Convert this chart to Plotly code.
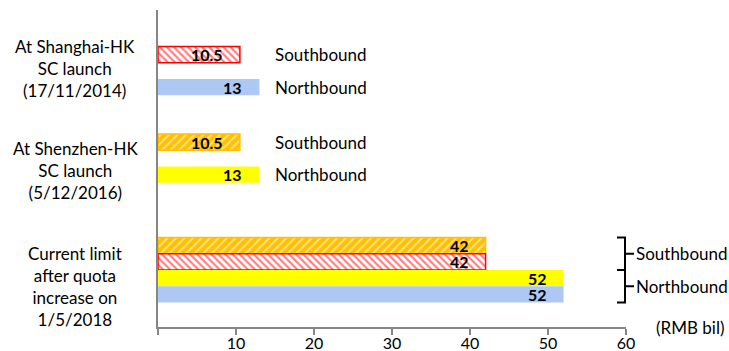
import plotly.graph_objects as go

# ---------------- data ----------------
categories = [
    "At Shanghai-HK<br>SC launch<br>(17/11/2014)",
    "At Shenzhen-HK<br>SC launch<br>(5/12/2016)",
    "Current limit<br>after quota<br>increase on<br>1/5/2018",
]
south_szhk = [None, 10.5, 42]   # orange hatched
south_shhk = [10.5, None, 42]   # red hatched
north_szhk = [None, 13, 52]     # yellow
north_shhk = [13, None, 52]     # light blue
x_ticks = [0, 10, 20, 30, 40, 50, 60]
x_ticktext = ["", "10", "20", "30", "40", "50", "60"]
unit_label = "(RMB bil)"

# ---------------- styling ----------------
FONT = "Lato"
W, H = 729, 351
ML, MR, MT, MB = 158, 103, 10, 24
BARGAP = 0.372
YR = [2.55, -0.51]  # reversed category axis
slot_w = (1 - BARGAP) / 4

series = [
    dict(name="Southbound (SZ-HK)", vals=south_szhk, dirn="Southbound",
         marker=dict(color="#FFC000", line=dict(color="#FFC000", width=1.5),
                     pattern=dict(shape="/", bgcolor="#FFC000", fgcolor="white",
                                  size=6, solidity=0.35, fillmode="overlay"))),
    dict(name="Southbound (SH-HK)", vals=south_shhk, dirn="Southbound",
         marker=dict(color="white", line=dict(color="#FF0000", width=1.5),
                     pattern=dict(shape="\\", bgcolor="white", fgcolor="#FF0000",
                                  size=5, solidity=0.45, fillmode="overlay"))),
    dict(name="Northbound (SZ-HK)", vals=north_szhk, dirn="Northbound",
         marker=dict(color="#FFFF00", line=dict(width=0))),
    dict(name="Northbound (SH-HK)", vals=north_shhk, dirn="Northbound",
         marker=dict(color="#ADC8F2", line=dict(width=0))),
]

fig = go.Figure()
for s in series:
    fig.add_trace(go.Bar(
        y=categories, x=s["vals"], orientation="h", name=s["name"],
        marker=s["marker"], showlegend=False, hoverinfo="x+name",
    ))

annotations = []
shapes = []

def paper_y(v):
    return (YR[0] - v) / (YR[0] - YR[1])

def paper_x_px(px):
    return (px - ML) / (W - ML - MR)

# value labels + side labels
for i, s in enumerate(series):
    other = [t for k, t in enumerate(series) if t["dirn"] == s["dirn"] and k != i][0]
    for j, v in enumerate(s["vals"]):
        if v is None:
            continue
        yc = j + (i - 1.5) * slot_w
        annotations.append(dict(
            x=v, y=yc, xref="x", yref="y", text="<b>%s</b>" % (("%g" % v)),
            showarrow=False, xanchor="right", yanchor="middle", xshift=-15,
            font=dict(family=FONT, size=16, color="black"),
        ))
        if other["vals"][j] is None:
            annotations.append(dict(
                x=paper_x_px(273), y=yc, xref="paper", yref="y", text=s["dirn"],
                showarrow=False, xanchor="left", yanchor="middle",
                font=dict(family=FONT, size=17, color="black"),
            ))

# bracket group labels for the last category
jl = len(categories) - 1
for k, dirn in enumerate(["Southbound", "Northbound"]):
    top = jl + (2 * k - 2) * slot_w
    bot = jl + (2 * k) * slot_w
    mid = (top + bot) / 2
    x0, x1, x2 = paper_x_px(617), paper_x_px(625), paper_x_px(634)
    yt, yb, ym = paper_y(top), paper_y(bot), paper_y(mid)
    shapes.append(dict(
        type="path", xref="paper", yref="paper",
        path=f"M {x0},{yt} L {x1},{yt} L {x1},{yb} L {x0},{yb} M {x1},{ym} L {x2},{ym}",
        line=dict(color="black", width=2),
    ))
    annotations.append(dict(
        x=x2, y=ym, xref="paper", yref="paper", text=dirn, showarrow=False,
        xanchor="left", yanchor="middle", font=dict(family=FONT, size=17, color="black"),
    ))

# category labels (centered multi-line)
cat_shift = [-6, -4, -16]
for j, c in enumerate(categories):
    annotations.append(dict(
        x=paper_x_px(75), y=j, xref="paper", yref="y", text=c, showarrow=False,
        xanchor="center", yanchor="middle", align="center", yshift=cat_shift[j],
        font=dict(family=FONT, size=17, color="black"),
    ))

# unit label
annotations.append(dict(
    x=paper_x_px(654), y=0, xref="paper", yref="paper", text=unit_label,
    showarrow=False, xanchor="left", yanchor="middle",
    font=dict(family=FONT, size=17, color="black"),
))

fig.update_layout(
    width=W, height=H,
    margin=dict(l=ML, r=MR, t=MT, b=MB, autoexpand=False),
    barmode="group", bargap=BARGAP, bargroupgap=0,
    plot_bgcolor="white", paper_bgcolor="white",
    annotations=annotations, shapes=shapes,
    xaxis=dict(range=[0, 60], tickvals=x_ticks, ticktext=x_ticktext,
               showgrid=False, zeroline=False, showline=True, automargin=False,
               linecolor="#868686", linewidth=1.5, ticks="outside",
               ticklen=6, tickcolor="#868686", tickwidth=1.5,
               ticklabelstandoff=-5,
               tickfont=dict(family=FONT, size=16, color="black")),
    yaxis=dict(type="category", range=YR, showticklabels=False, showgrid=False,
               automargin=False,
               zeroline=False, showline=True, linecolor="#868686", linewidth=1.5,
               ticks=""),
)

fig.write_html("out.html")
